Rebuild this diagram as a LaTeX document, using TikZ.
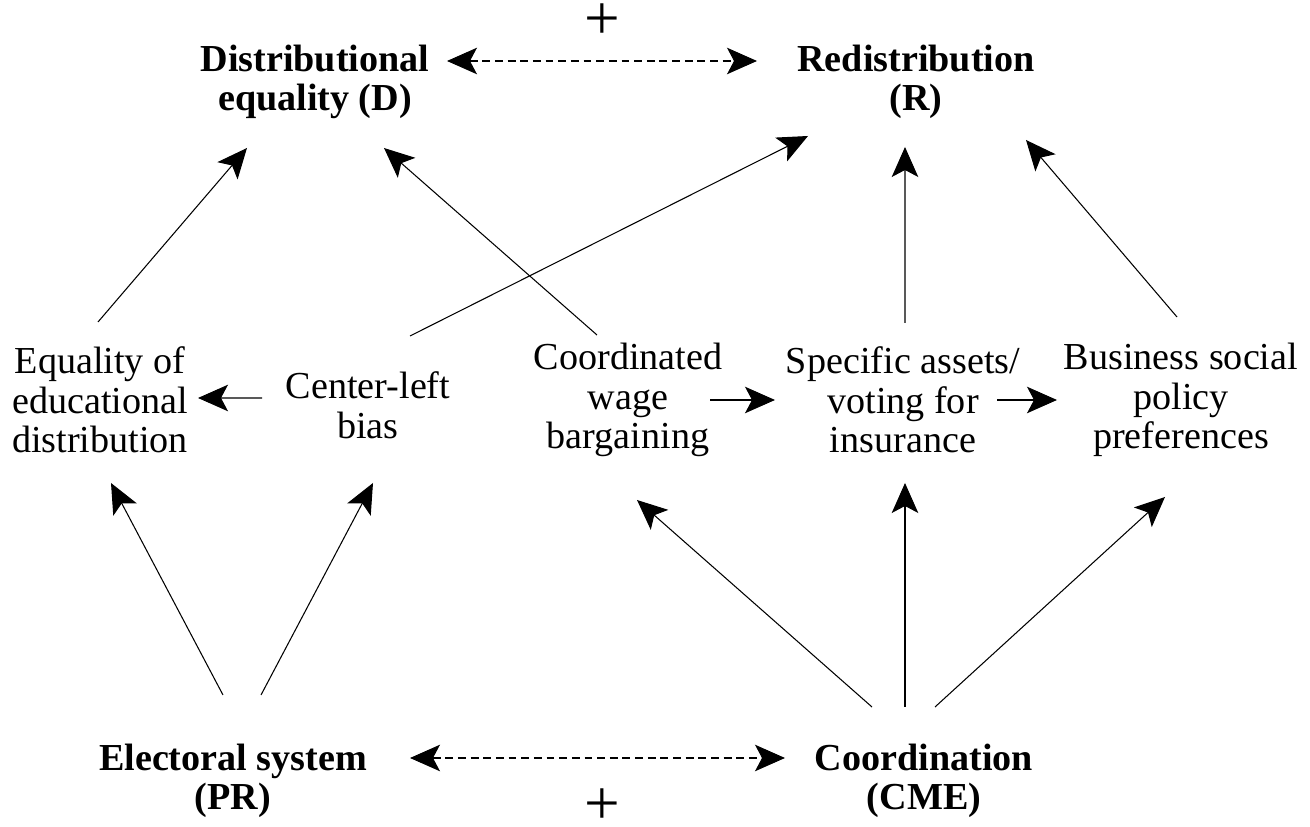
\documentclass[tikz,border=0pt]{standalone}
\usepackage{fontspec}
\setmainfont{Liberation Serif}
\usetikzlibrary{arrows.meta}

\tikzset{
	concept/.style={align=center, inner sep=0pt, font=\fontsize{21.7}{22.5}\selectfont},
	outcome/.style={concept, font=\fontsize{21.7}{22.5}\selectfont\bfseries},
	sign/.style={inner sep=0pt, font=\fontsize{36}{36}\selectfont},
	effect/.style={-{Stealth[length=0.6cm, width=0.53cm, inset=0.14cm]}, line width=0.6pt},
	mutual/.style={{Stealth[length=0.6cm, width=0.53cm, inset=0.14cm]}-{Stealth[length=0.6cm, width=0.53cm, inset=0.14cm]}, line width=0.6pt, dash pattern=on 4.5pt off 2.7pt}
}

\begin{document}
\begin{tikzpicture}
	\useasboundingbox (0,0) rectangle (26.2,16.54);

	\node[outcome](distribution) at (6.30,14.90){Distributional\\equality (D)};
	\node[outcome](redistribution) at (18.32,14.90){Redistribution\\(R)};
	\node[sign](plustop) at (12.04,16.10){+};

	\node[concept](education) at (2.00,8.54){Equality of\\educational\\distribution};
	\node[concept](centerleft) at (7.36,8.44){Center-left\\bias};
	\node[concept](wage) at (12.56,8.54){Coordinated\\wage\\bargaining};
	\node[concept](assets) at (18.06,8.54){Specific assets/\\voting for\\insurance};
	\node[concept](business) at (23.62,8.54){Business social\\policy\\preferences};

	\node[outcome](electoral) at (4.66,0.92){Electoral system\\(PR)};
	\node[outcome](coordination) at (18.48,0.92){Coordination\\(CME)};
	\node[sign](plusbottom) at (12.04,0.40){+};

	\draw [mutual] ([shift={(2.64,0.42)}]distribution.center) -- ([shift={(-3.18,0.42)}]redistribution.center);
	\draw [mutual] ([shift={(3.54,0.46)}]electoral.center) -- ([shift={(-2.78,0.46)}]coordination.center);

	\draw [effect] ([shift={(-0.04,1.56)}]education.center) -- ([shift={(-1.36,-1.32)}]distribution.center);
	\draw [effect] ([shift={(-0.62,1.30)}]wage.center) -- ([shift={(1.38,-1.32)}]distribution.center);
	\draw [effect] ([shift={(0.84,1.38)}]centerleft.center) -- ([shift={(-2.16,-1.08)}]redistribution.center);
	\draw [effect] ([shift={(0.04,1.54)}]assets.center) -- ([shift={(-0.22,-1.30)}]redistribution.center);
	\draw [effect] ([shift={(-0.08,1.66)}]business.center) -- ([shift={(2.20,-1.16)}]redistribution.center);

	\draw [effect] ([shift={(-2.12,0.14)}]centerleft.center) -- ([shift={(1.96,0.04)}]education.center);
	\draw [effect] ([shift={(1.64,0)}]wage.center) -- ([shift={(-2.56,0)}]assets.center);
	\draw [effect] ([shift={(1.88,0)}]assets.center) -- ([shift={(-2.48,0)}]business.center);

	\draw [effect] ([shift={(-0.20,1.72)}]electoral.center) -- ([shift={(0.22,-1.66)}]education.center);
	\draw [effect] ([shift={(0.56,1.72)}]electoral.center) -- ([shift={(0.10,-1.56)}]centerleft.center);
	\draw [effect] ([shift={(-1.04,1.48)}]coordination.center) -- ([shift={(0.18,-2.00)}]wage.center);
	\draw [effect] ([shift={(-0.38,1.48)}]coordination.center) -- ([shift={(0.04,-1.66)}]assets.center);
	\draw [effect] ([shift={(0.22,1.48)}]coordination.center) -- ([shift={(-0.32,-1.94)}]business.center);

\end{tikzpicture}
\end{document}
